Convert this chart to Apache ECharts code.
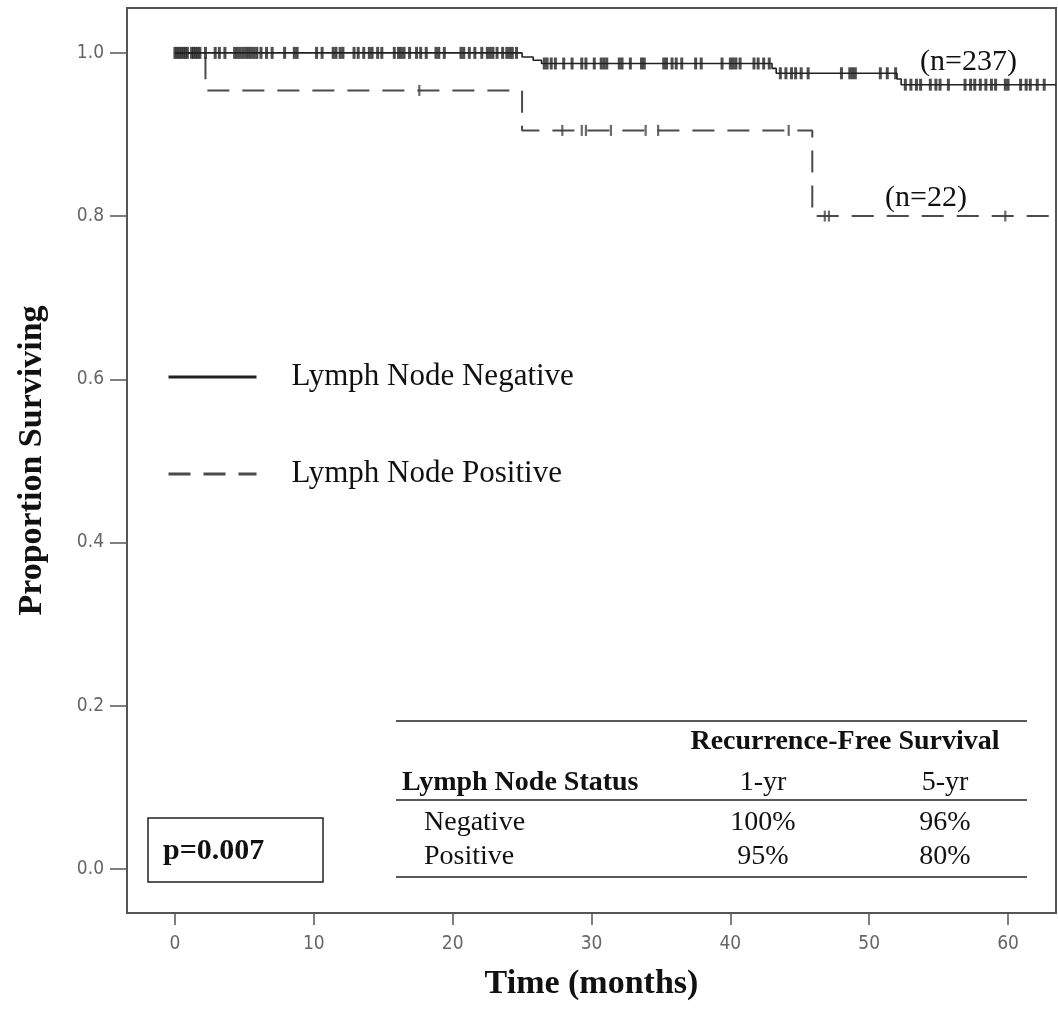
<!DOCTYPE html>
<html>
<head>
<meta charset="utf-8">
<script src="https://cdn.jsdelivr.net/npm/echarts@6/dist/echarts.min.js"></script>
<style>
  html, body { margin: 0; padding: 0; background: #fff; }
  #main { width: 1058px; height: 1015px; }
</style>
</head>
<body>
<div id="main"></div>
<script>
// Kaplan-Meier steps [months, proportion surviving]
var negSteps = [[0, 1], [25.0, 0.995], [25.8, 0.991], [26.4, 0.987], [43.0, 0.981], [43.3, 0.975], [52.0, 0.968], [52.3, 0.961], [63.45, 0.961]];
var posSteps = [[0, 1], [2.2, 0.954], [25.0, 0.905], [45.9, 0.80], [63.45, 0.80]];

// censored times (months)
var negCensor = [0, 0.15, 0.3, 0.45, 0.6, 0.75, 0.9, 1.2, 1.35, 1.5, 1.65, 1.8,
  2.2, 2.9, 3.2, 3.6, 4.3, 4.5, 4.7, 4.9, 5.1, 5.3, 5.5, 5.7, 5.9, 6.2, 6.6, 7.0, 7.9, 8.6, 8.8,
  10.2, 10.6, 11.4, 11.6, 11.9, 12.1, 12.9, 13.2, 13.6, 14.0, 14.2, 14.6, 14.9, 15.8, 16.1, 16.3, 16.5,
  16.9, 17.4, 17.7, 18.1, 18.8, 19.0, 19.4, 20.6, 20.8, 21.2, 21.6, 22.1, 22.5, 22.7, 22.9, 23.2, 23.6,
  23.9, 24.1, 24.3, 24.6,
  26.6, 26.8, 27.1, 27.4, 28.0, 28.6, 29.3, 29.6, 30.2, 30.7, 30.9, 31.1, 32.0, 32.2, 32.8, 33.6, 33.8,
  35.2, 35.4, 35.8, 36.1, 36.5, 37.5, 37.9, 39.4, 40.0, 40.2, 40.4, 40.7, 41.7, 42.0, 42.4, 42.8,
  43.6, 44.0, 44.4, 44.7, 45.1, 45.6, 48.0, 48.6, 48.8, 49.0, 50.8, 51.3, 51.9,
  52.6, 53.0, 53.4, 53.7, 54.4, 54.8, 55.1, 55.7, 56.9, 57.3, 57.6, 58.0, 58.4, 58.8, 59.1, 59.8, 60.0,
  60.9, 61.3, 61.6, 62.1, 62.6];
var posCensor = [17.6, 27.9, 29.3, 29.6, 31.4, 33.9, 34.8, 44.2, 46.8, 47.1, 59.8];

var xTicks = [0, 10, 20, 30, 40, 50, 60];
var yTicks = [0, 0.2, 0.4, 0.6, 0.8, 1.0];

var seriesNames = ['Lymph Node Negative', 'Lymph Node Positive'];
var nLabels = ['(n=237)', '(n=22)'];
var pValue = 'p=0.007';
var tableTitle = 'Recurrence-Free Survival';
var tableHead = ['Lymph Node Status', '1-yr', '5-yr'];
var tableRows = [['Negative', '100%', '96%'], ['Positive', '95%', '80%']];

// level of a step curve at time t
function levelAt(steps, t) {
    var v = steps[0][1];
    for (var i = 0; i < steps.length; i++) {
        if (steps[i][0] <= t) v = steps[i][1];
    }
    return v;
}
function censorPoints(times, steps) {
    return times.map(function (t) { return [t, levelAt(steps, t)]; });
}

var serif = "'Liberation Serif', 'Times New Roman', serif";
var sans = "'DejaVu Sans Condensed', 'DejaVu Sans', sans-serif";

var chart = echarts.init(document.getElementById('main'));

// table pieces
var colX = [402, 763, 945];
var tableGraphic = [
    { type: 'line', shape: { x1: 396, y1: 721, x2: 1027, y2: 721 }, style: { stroke: '#222', lineWidth: 1.5 } },
    { type: 'line', shape: { x1: 396, y1: 800, x2: 1027, y2: 800 }, style: { stroke: '#222', lineWidth: 1.5 } },
    { type: 'line', shape: { x1: 396, y1: 877, x2: 1027, y2: 877 }, style: { stroke: '#222', lineWidth: 1.5 } },
    { type: 'text', x: 845, y: 742, style: { text: tableTitle, font: 'bold 28px ' + serif, fill: '#111', align: 'center', verticalAlign: 'middle' } },
    { type: 'text', x: colX[0], y: 783, style: { text: tableHead[0], font: 'bold 28px ' + serif, fill: '#111', align: 'left', verticalAlign: 'middle' } },
    { type: 'text', x: colX[1], y: 783, style: { text: tableHead[1], font: '28px ' + serif, fill: '#111', align: 'center', verticalAlign: 'middle' } },
    { type: 'text', x: colX[2], y: 783, style: { text: tableHead[2], font: '28px ' + serif, fill: '#111', align: 'center', verticalAlign: 'middle' } }
];
tableRows.forEach(function (row, i) {
    var y = 823 + i * 34;
    tableGraphic.push({ type: 'text', x: 424, y: y, style: { text: row[0], font: '28px ' + serif, fill: '#111', align: 'left', verticalAlign: 'middle' } });
    tableGraphic.push({ type: 'text', x: colX[1], y: y, style: { text: row[1], font: '28px ' + serif, fill: '#111', align: 'center', verticalAlign: 'middle' } });
    tableGraphic.push({ type: 'text', x: colX[2], y: y, style: { text: row[2], font: '28px ' + serif, fill: '#111', align: 'center', verticalAlign: 'middle' } });
});

var option = {
    backgroundColor: '#fff',
    animation: false,
    grid: {
        left: 127, top: 8, right: 2, bottom: 102,
        show: true, borderColor: '#555', borderWidth: 2, backgroundColor: 'transparent'
    },
    xAxis: {
        type: 'value',
        min: -3.45, max: 63.45,
        name: 'Time (months)',
        nameLocation: 'middle',
        nameGap: 54,
        nameTextStyle: { fontFamily: serif, fontWeight: 'bold', fontSize: 34, color: '#111' },
        axisLine: { show: false, onZero: false },
        splitLine: { show: false },
        axisTick: { show: true, customValues: xTicks, length: 12, lineStyle: { color: '#555', width: 1.5 } },
        axisLabel: { customValues: xTicks, margin: 22, fontFamily: sans, fontSize: 19, color: '#666' }
    },
    yAxis: {
        type: 'value',
        min: -0.054, max: 1.055,
        name: 'Proportion Surviving',
        nameLocation: 'middle',
        nameRotate: 90,
        nameGap: 78,
        nameTextStyle: { fontFamily: serif, fontWeight: 'bold', fontSize: 34, color: '#111' },
        axisLine: { show: false, onZero: false },
        splitLine: { show: false },
        axisTick: { show: true, customValues: yTicks, length: 17, lineStyle: { color: '#555', width: 1.5 } },
        axisLabel: {
            customValues: yTicks, margin: 23, fontFamily: sans, fontSize: 19, color: '#666',
            formatter: function (v) { return v.toFixed(1); }
        }
    },
    legend: {
        data: seriesNames,
        orient: 'vertical',
        left: 167, top: 360,
        padding: 0,
        itemWidth: 88, itemHeight: 14, itemGap: 63,
        selectedMode: false,
        itemStyle: { opacity: 0 },
        lineStyle: { width: 3, opacity: 1 },
        textStyle: { fontFamily: serif, fontSize: 31, color: '#111', lineHeight: 34, padding: [0, 0, 0, 30] }
    },
    graphic: [
        { type: 'text', x: 920, y: 62, style: { text: nLabels[0], font: '30px ' + serif, fill: '#111', verticalAlign: 'middle' } },
        { type: 'text', x: 885, y: 198, style: { text: nLabels[1], font: '30px ' + serif, fill: '#111', verticalAlign: 'middle' } },
        { type: 'rect', shape: { x: 148, y: 818, width: 175, height: 64 }, style: { fill: '#fff', stroke: '#222', lineWidth: 1.5 } },
        { type: 'text', x: 163, y: 851, style: { text: pValue, font: 'bold 30px ' + serif, fill: '#111', verticalAlign: 'middle' } }
    ].concat(tableGraphic),
    series: [
        {
            name: seriesNames[1],
            type: 'line',
            step: 'end',
            data: posSteps,
            symbol: 'none',
            lineStyle: { color: '#4a4a4a', width: 2, type: [22, 13] },
            itemStyle: { color: '#4a4a4a' },
            z: 2
        },
        {
            name: seriesNames[0],
            type: 'line',
            step: 'end',
            data: negSteps,
            symbol: 'none',
            lineStyle: { color: '#222', width: 1.6 },
            itemStyle: { color: '#222' },
            z: 3
        },
        {
            name: 'posCensor',
            type: 'scatter',
            data: censorPoints(posCensor, posSteps),
            symbol: 'rect',
            symbolSize: [2.2, 11],
            itemStyle: { color: '#444' },
            z: 4
        },
        {
            name: 'negCensor',
            type: 'scatter',
            data: censorPoints(negCensor, negSteps),
            symbol: 'rect',
            symbolSize: [3, 12],
            itemStyle: { color: '#222' },
            z: 4
        }
    ]
};

chart.setOption(option);
</script>
</body>
</html>
